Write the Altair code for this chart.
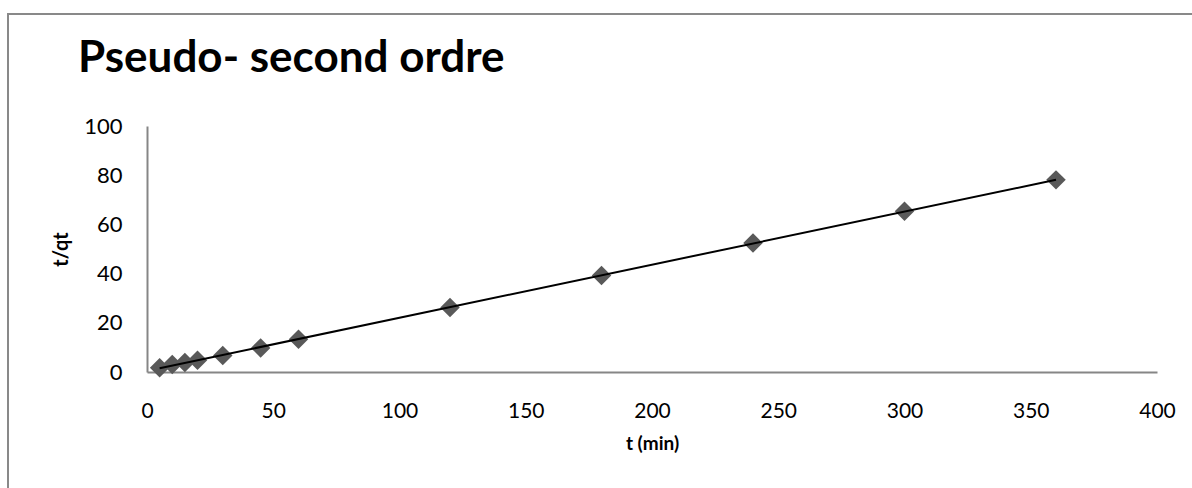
import altair as alt
import pandas as pd

# Contact time (min) and t/qt for the pseudo-second-order kinetic plot
t_min = [5, 10, 15, 20, 30, 45, 60, 120, 180, 240, 300, 360]
t_over_qt = [1.7, 3.0, 3.9, 4.8, 6.7, 9.8, 13.3, 26.2, 39.2, 52.4, 65.3, 78.1]
chart_title = ["Pseudo- second ordre"]

df = pd.DataFrame({"t": t_min, "tqt": t_over_qt})

FONT = "Lato"
GREY = "#868686"

x_enc = alt.X(
    "t:Q",
    scale=alt.Scale(domain=[0, 400], nice=False),
    axis=alt.Axis(
        values=[0, 50, 100, 150, 200, 250, 300, 350, 400],
        title="t (min)",
        grid=False,
        ticks=False,
        labelFlush=False,
        domainColor=GREY,
        domainWidth=2,
        labelFont=FONT,
        labelFontSize=21,
        labelColor="#000000",
        labelPadding=28,
        titleFont=FONT,
        titleFontSize=19,
        titleFontWeight="bold",
        titleColor="#000000",
        titlePadding=13,
    ),
)
y_enc = alt.Y(
    "tqt:Q",
    scale=alt.Scale(domain=[0, 100], nice=False),
    axis=alt.Axis(
        values=[0, 20, 40, 60, 80, 100],
        title="t/qt",
        grid=False,
        ticks=False,
        labelFlush=False,
        domainColor=GREY,
        domainWidth=2,
        labelFont=FONT,
        labelFontSize=22,
        labelColor="#000000",
        labelPadding=25,
        titleFont=FONT,
        titleFontSize=20,
        titleFontWeight="bold",
        titleColor="#000000",
        titlePadding=12,
    ),
)

points = alt.Chart(df).mark_point(
    shape="diamond", filled=True, color="#595959", opacity=1, size=380
).encode(x=x_enc, y=y_enc)

trend = (
    alt.Chart(df)
    .transform_regression("t", "tqt", method="linear")
    .mark_line(color="#000000", strokeWidth=2)
    .encode(x="t:Q", y="tqt:Q")
)

# Outer chart frame
frame = alt.Chart(pd.DataFrame({"k": [0]})).mark_rect(
    fill=None, stroke="#898989", strokeWidth=2, clip=False
).encode(
    x=alt.value(-139), x2=alt.value(1200), y=alt.value(-112), y2=alt.value(500)
)

# Chart heading, drawn at the top-left inside the frame
heading = alt.Chart(pd.DataFrame({"label": chart_title})).mark_text(
    font=FONT,
    fontSize=44,
    fontWeight="bold",
    color="#000000",
    align="left",
    baseline="alphabetic",
).encode(text="label:N", x=alt.value(-69), y=alt.value(-54))

chart = (
    alt.layer(frame, points, trend, heading)
    .properties(
        width=1010,
        height=246,
        padding={"left": 147, "top": 126, "right": 35, "bottom": 116},
        autosize=alt.AutoSizeParams(type="none"),
        view=alt.ViewBackground(stroke="transparent", strokeWidth=0),
    )
    .configure_view(strokeWidth=0, stroke="transparent")
    .configure(background="#ffffff", style={"cell": {"stroke": "transparent", "strokeWidth": 0}})
)

chart.save("out.html", embed_options={"renderer": "svg", "actions": False})
